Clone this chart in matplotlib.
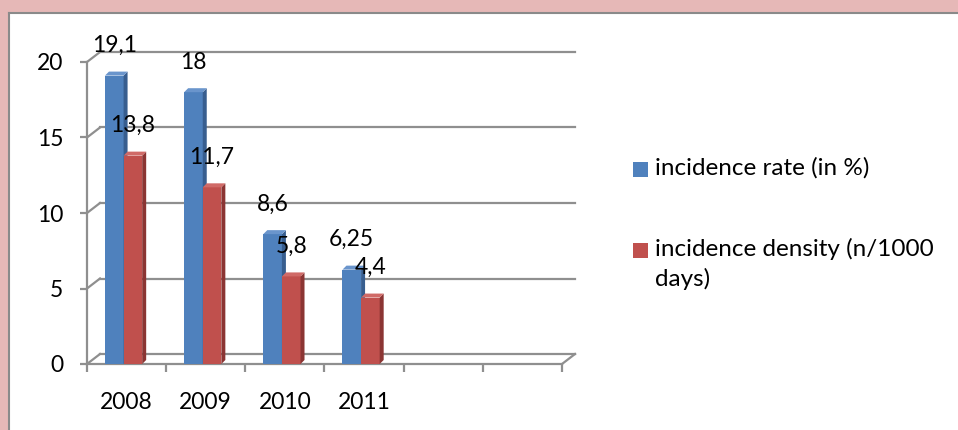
import matplotlib
matplotlib.use("Agg")
import matplotlib.pyplot as plt
from matplotlib.patches import Rectangle, Polygon

plt.rcParams['font.family'] = ['Lato', 'DejaVu Sans']

# data
years = ['2008', '2009', '2010', '2011', '', '']
incidence_rate = [19.1, 18, 8.6, 6.25]
incidence_density = [13.8, 11.7, 5.8, 4.4]
rate_labels = ['19,1', '18', '8,6', '6,25']
density_labels = ['13,8', '11,7', '5,8', '4,4']
series_names = ['incidence rate (in %)', 'incidence density (n/1000\ndays)']

W, H = 958, 430
fig = plt.figure(figsize=(W / 100, H / 100), dpi=100)
fig.patch.set_facecolor('white')

# pink frame on top / left like the original screenshot
fig.patches.append(Rectangle((0, 1 - 12 / H), 1, 12 / H, transform=fig.transFigure,
                             facecolor='#E6B8B7', edgecolor='none', zorder=0))
fig.patches.append(Rectangle((0, 0), 8 / W, 1, transform=fig.transFigure,
                             facecolor='#E6B8B7', edgecolor='none', zorder=0))
fig.lines.append(plt.Line2D([8.5 / W, 1], [1 - 12.5 / H] * 2, transform=fig.transFigure,
                            color='#8a8a8a', lw=1.5))
fig.lines.append(plt.Line2D([8.5 / W] * 2, [0, 1 - 12.5 / H], transform=fig.transFigure,
                            color='#8a8a8a', lw=1.5))

# plot area in pixels: x 87..562, y 62..364 (from top)
x0, x1, ytop, ybot = 87, 562, 62, 364
ax = fig.add_axes([x0 / W, 1 - ybot / H, (x1 - x0) / W, (ybot - ytop) / H])
ax.set_xlim(-0.5, 5.5)
ax.set_ylim(0, 20)
ax.patch.set_alpha(0)

px_x = 6 / (x1 - x0)          # data units per pixel
px_y = 20 / (ybot - ytop)
DX, DY = 13 * px_x, 10 * px_y   # wall depth
bdx, bdy = 4 * px_x, 4 * px_y   # bar depth

grid_c = '#8f8f8f'
for s in ['top', 'right']:
    ax.spines[s].set_visible(False)
for s in ['left', 'bottom']:
    ax.spines[s].set_color(grid_c)
    ax.spines[s].set_linewidth(1.6)

# back wall gridlines + side wall diagonals
for v in range(0, 21, 5):
    ax.plot([-0.5 + DX, 5.5 + DX], [v + DY, v + DY], color=grid_c, lw=1.6,
            clip_on=False, zorder=1)
    ax.plot([-0.5, -0.5 + DX], [v, v + DY], color=grid_c, lw=1.6, clip_on=False, zorder=1)
ax.plot([5.5, 5.5 + DX], [0, DY], color=grid_c, lw=1.6, clip_on=False, zorder=1)

ax.set_yticks(range(0, 21, 5))
ax.set_yticklabels([str(v) for v in range(0, 21, 5)], fontsize=16.5)
ax.tick_params(axis='y', length=5, width=1.6, color=grid_c, pad=12)
ax.set_xticks([i - 0.5 for i in range(7)])
ax.set_xticklabels([])
ax.tick_params(axis='x', which='major', length=6, width=1.6, color=grid_c)
ax.set_xticks(range(len(years)), minor=True)
ax.set_xticklabels(years, minor=True, fontsize=16.5)
ax.tick_params(axis='x', which='minor', length=0, pad=20)

blue, blue_side, blue_top = '#4F81BD', '#385E8F', '#6A95CC'
red, red_side, red_top = '#C0504D', '#8B3533', '#D06A67'
bw = 0.235
xs = list(range(len(incidence_rate)))


def bar3d(lefts, vals, face, side, top, labels):
    ax.bar(lefts, vals, width=bw, align='edge', color=face, edgecolor='none', zorder=3)
    for l, v, t in zip(lefts, vals, labels):
        r = l + bw
        ax.add_patch(Polygon([(r, 0), (r + bdx, bdy), (r + bdx, v + bdy), (r, v)],
                             closed=True, facecolor=side, edgecolor='none', zorder=3))
        ax.add_patch(Polygon([(l, v), (l + bdx, v + bdy), (r + bdx, v + bdy), (r, v)],
                             closed=True, facecolor=top, edgecolor='none', zorder=3))
        ax.annotate(t, (l + bw / 2, v), xytext=(0, 30), textcoords='offset pixels',
                    ha='center', va='center', fontsize=16.5, zorder=5, annotation_clip=False)


bar3d([x - 0.273 for x in xs], incidence_rate, blue, blue_side, blue_top, rate_labels)
bar3d([x - 0.038 for x in xs], incidence_density, red, red_side, red_top, density_labels)

# legend drawn at fixed position
for (name, col, ysq, ytxt) in [(series_names[0], blue, 162, 157), (series_names[1], red, 243, 238)]:
    fig.patches.append(Rectangle((633 / W, 1 - (ysq + 15) / H), 15 / W, 15 / H,
                                 transform=fig.transFigure, facecolor=col, edgecolor='none'))
    fig.text(655 / W, 1 - ytxt / H, name, ha='left', va='top', fontsize=17.5,
             linespacing=1.45)

fig.savefig('out.png', dpi=100)
